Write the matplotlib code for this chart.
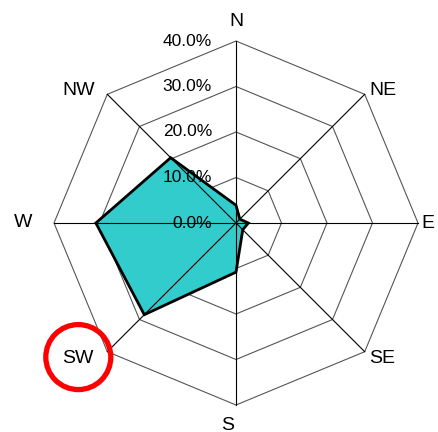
import numpy as np
import matplotlib
matplotlib.use("Agg")
import matplotlib.pyplot as plt
from matplotlib.patches import Polygon, Circle

plt.rcParams["font.family"] = ["Liberation Sans", "DejaVu Sans"]

# wind direction frequency (%)
directions = ["N", "NE", "E", "SE", "S", "SW", "W", "NW"]
freq = [3.9, 1.2, 2.7, 2.1, 10.8, 28.5, 30.8, 20.3]
rings = [0, 10, 20, 30, 40]
ring_labels = ["0.0%", "10.0%", "20.0%", "30.0%", "40.0%"]

RMAX = rings[-1]
PX = 182 / RMAX          # pixels per percent

# clockwise from north
ang = np.deg2rad(90 - 45 * np.arange(len(directions)))
ux, uy = np.cos(ang), np.sin(ang)

fig = plt.figure(figsize=(4.39, 4.32), dpi=100)
ax = fig.add_axes([0, 0, 1, 1])
ax.set_xlim(-236 / PX, (439 - 236) / PX)
ax.set_ylim(-(432 - 223) / PX, 223 / PX)
ax.axis("off")

# octagon rings
for r in rings[1:]:
    ax.add_patch(Polygon(np.c_[ux * r, uy * r], closed=True, fill=False,
                         ec="#555555", lw=0.8, zorder=1))

# data polygon
f = np.array(freq)
ax.add_patch(Polygon(np.c_[ux * f, uy * f], closed=True, fc="#33CCCC",
                     ec="black", lw=2.0, joinstyle="miter", zorder=2))

# spokes over the fill
for x, y in zip(ux, uy):
    ax.plot([0, x * RMAX], [0, y * RMAX], color="black", lw=0.8, zorder=3)

# ring value labels next to the N spoke
for r, s in zip(rings, ring_labels):
    ax.text(-5.3, r, s, ha="right", va="center", fontsize=12.5, zorder=5)

# direction labels, offset (px) from each outer vertex
offs = {"N": (0, 19), "NE": (18, 4), "E": (10, 0), "SE": (17, -7),
        "S": (-8, -20), "SW": (-29, -7), "W": (-31, 1), "NW": (-29, 4)}
for d, x, y in zip(directions, ux, uy):
    dx, dy = offs[d]
    ax.text(x * RMAX + dx / PX, y * RMAX + dy / PX, d, ha="center",
            va="center", fontsize=14, zorder=5)
    if d == "SW":
        ax.add_patch(Circle((x * RMAX + dx / PX, y * RMAX + dy / PX + 1.6 / PX),
                            32.5 / PX, fill=False, ec="#FF0000", lw=3.8, zorder=6))

fig.savefig("out.png", dpi=100)
